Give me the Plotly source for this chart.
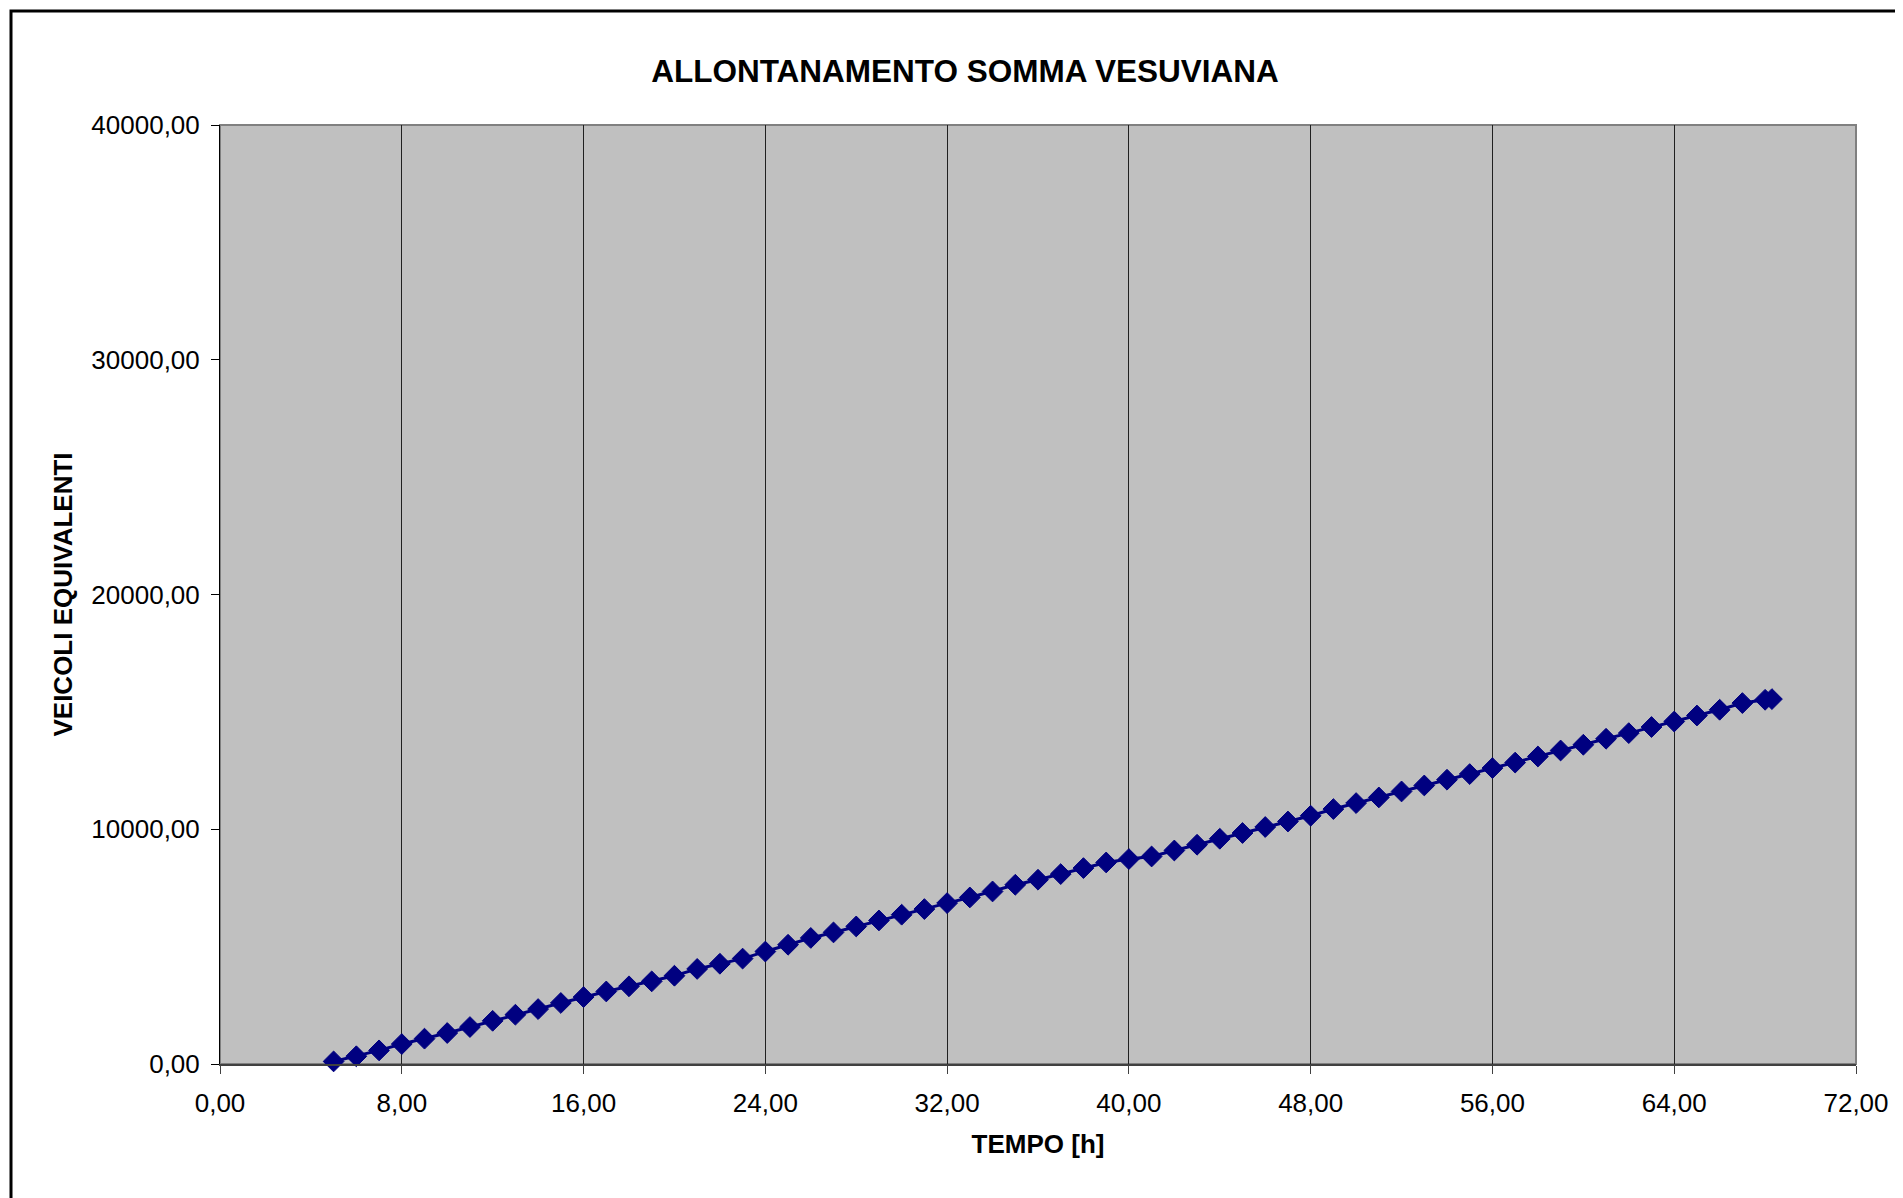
import plotly.graph_objects as go

# tempo [h] and cumulative equivalent vehicles
tempo = [5, 6, 7, 8, 9, 10, 11, 12, 13, 14, 15, 16, 17, 18, 19, 20, 21, 22, 23, 24,
         25, 26, 27, 28, 29, 30, 31, 32, 33, 34, 35, 36, 37, 38, 39, 40, 41, 42, 43, 44,
         45, 46, 47, 48, 49, 50, 51, 52, 53, 54, 55, 56, 57, 58, 59, 60, 61, 62, 63, 64,
         65, 66, 67, 68, 68.3]
veicoli = [110, 330, 580, 850, 1080, 1320, 1575, 1840, 2100, 2340, 2600, 2850, 3090, 3310,
           3520, 3760, 4050, 4270, 4490, 4790, 5080, 5370, 5605, 5860, 6115, 6360, 6600,
           6855, 7095, 7350, 7635, 7850, 8090, 8345, 8585, 8730, 8840, 9095, 9340, 9595,
           9840, 10095, 10330, 10575, 10860, 11115, 11355, 11610, 11865, 12110, 12350,
           12605, 12840, 13100, 13355, 13600, 13855, 14095, 14355, 14590, 14845, 15090,
           15375, 15515, 15545]

x_ticks = [0, 8, 16, 24, 32, 40, 48, 56, 64, 72]
x_labels = ["0,00", "8,00", "16,00", "24,00", "32,00", "40,00", "48,00", "56,00", "64,00", "72,00"]
y_ticks = [0, 10000, 20000, 30000, 40000]
y_labels = ["0,00", "10000,00", "20000,00", "30000,00", "40000,00"]

# page body has an 8px margin, so the figure is a bit smaller than the window
W, H = 1895, 1190
L, R, T, B = 212, 47, 117, 134
pw, ph = W - L - R, H - T - B

font = "Liberation Sans, Arial, sans-serif"
navy = "#000080"

fig = go.Figure(go.Scatter(
    x=tempo, y=veicoli, mode="lines+markers",
    line=dict(color=navy, width=3),
    marker=dict(symbol="diamond", size=16, color=navy, line=dict(color=navy, width=1)),
    cliponaxis=False, showlegend=False))

fig.update_layout(
    width=W, height=H,
    margin=dict(l=L, r=R, t=T, b=B),
    paper_bgcolor="white", plot_bgcolor="#C0C0C0",
    font=dict(family=font, size=26, color="black"),
    title=dict(text="<b>ALLONTANAMENTO SOMMA VESUVIANA</b>", font=dict(size=31.5),
               x=(957 - L) / pw, xref="paper", xanchor="center",
               y=1 - 63 / H, yref="container", yanchor="middle"),
)

fig.update_xaxes(
    range=[0, 72], tickvals=x_ticks, ticktext=x_labels,
    showgrid=True, gridcolor="#202020", gridwidth=1,
    ticks="outside", ticklen=8, tickcolor="#404040", tickwidth=1,
    ticklabelstandoff=7,
    showline=True, linecolor="#404040", linewidth=2,
    zeroline=False,
    title=dict(text="<b>TEMPO [h]</b>", font=dict(size=26), standoff=18),
)
fig.update_yaxes(
    range=[0, 40000], tickvals=y_ticks, ticktext=y_labels,
    showgrid=False,
    ticks="outside", ticklen=8, tickcolor="black", tickwidth=1,
    ticklabelstandoff=6,
    showline=True, linecolor="black", linewidth=1,
    zeroline=False,
    title=dict(text="<b>VEICOLI EQUIVALENTI</b>", font=dict(size=26), standoff=11),
)

# grey frame of the plot area (top and right)
fig.add_shape(type="rect", xref="paper", yref="paper", x0=0, x1=1, y0=0, y1=1,
              line=dict(color="#808080", width=2), layer="below")
# outer chart border (runs off the right and bottom edges)
fig.add_shape(type="rect", xref="paper", yref="paper",
              x0=(3 - L) / pw, x1=(W + 20 - L) / pw,
              y0=-(B + 20) / ph, y1=1 + (T - 3) / ph,
              line=dict(color="black", width=3))

fig.write_html("out.html")
